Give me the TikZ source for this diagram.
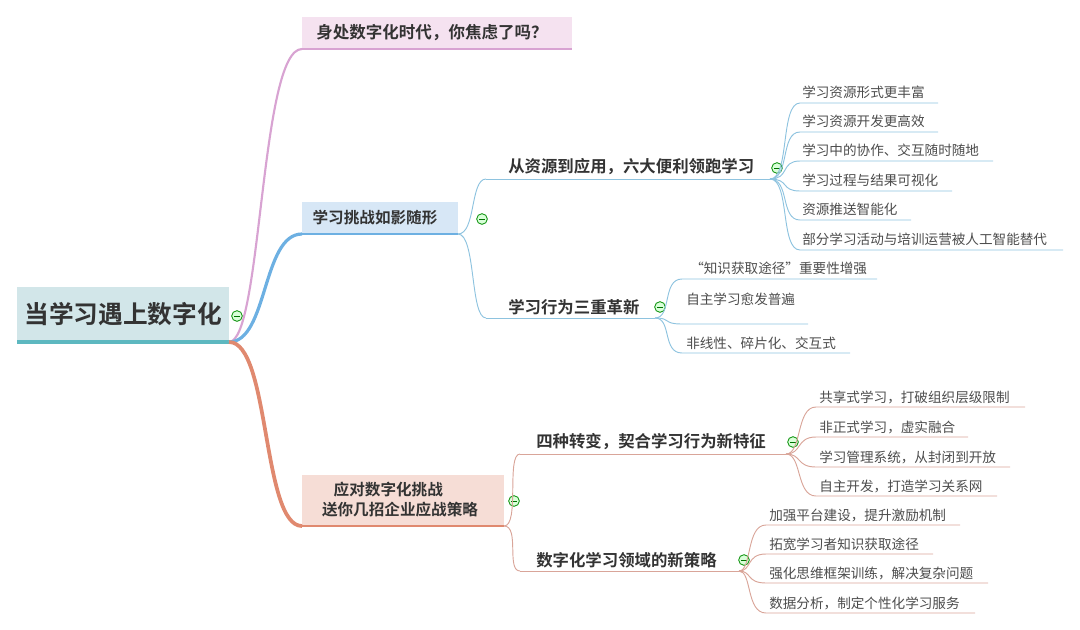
\documentclass[tikz,border=0pt]{standalone}
\usepackage{fontspec}
\setmainfont{Noto Sans CJK SC}
\newfontfamily\cjkb{Noto Sans CJK SC Bold}
\begin{document}
\begin{tikzpicture}[x=0.75pt,y=-0.75pt,
  leaf/.style={anchor=west,inner sep=0pt,text=black!70,font=\fontsize{10.2}{12}\selectfont},
  sub/.style={anchor=west,inner sep=0pt,text=black!80,font=\cjkb\fontsize{12.3}{14}\selectfont},
  minus/.style={circle,draw=green!55!black,fill=green!15,line width=0.6pt,minimum size=8pt,inner sep=0pt,
     path picture={\draw[green!45!black,line width=0.7pt] ([xshift=-2pt]path picture bounding box.center)--([xshift=2pt]path picture bounding box.center);}},
  conn/.style={line width=0.7pt}]
\useasboundingbox (0,0) rectangle (1080,629);
\definecolor{pk}{HTML}{D8A3D2}\definecolor{pkf}{HTML}{F5E2F0}
\definecolor{bl}{HTML}{6DB0E2}\definecolor{blf}{HTML}{D7E7F6}
\definecolor{bll}{HTML}{8EC3DF}
\definecolor{or}{HTML}{E0896F}\definecolor{orf}{HTML}{F6DDD6}
\definecolor{orl}{HTML}{D9A599}
\definecolor{tl}{HTML}{5DB8C0}\definecolor{tlf}{HTML}{D2E6E9}
% root
\fill[tlf] (17,287) rectangle (229,342);
\draw[tl,line width=2.5pt] (17,342) -- (229,342);
\node[text=black!80,font=\cjkb\fontsize{18.5}{20}\selectfont] (root) at (123,314) {当学习遇上数字化};
\coordinate (r0) at (229,342);
\node[minus] (rm) at (237,316) {};
% branch 1
\fill[pkf] (302,17) rectangle (572,49);
\draw[pk,line width=2pt] (302,49) -- (572,49);
\node[text=black!80,font=\cjkb\fontsize{12.4}{13}\selectfont] (b1) at (432,33) {身处数字化时代，你焦虑了吗？};
\coordinate (b1a) at (302,49);
% branch 2
\fill[blf] (302,202) rectangle (458,234);
\draw[bl,line width=2pt] (302,234) -- (458,234);
\node[text=black!80,font=\cjkb\fontsize{11.7}{13}\selectfont] (b2) at (375,218) {学习挑战如影随形};
\coordinate (b2a) at (302,234); \coordinate (b2b) at (458,234);
\node[minus] (b2m) at (482,219) {};
% branch 3
\fill[orf] (302,475) rectangle (504,526);
\draw[or,line width=2pt] (302,526) -- (504,526);
\node[text=black!80,font=\cjkb\fontsize{11.7}{15}\selectfont,align=center] (b3) at (400,500) {\hspace*{-1.5em}应对数字化挑战\\送你几招企业应战策略};
\coordinate (b3a) at (302,526); \coordinate (b3b) at (504,526);
\node[minus] (b3m) at (514,501) {};
% root connectors
\draw[pk,line width=1.6pt] (r0) .. controls (262,342) and (260,49) .. (b1a);
\draw[bl,line width=2.4pt] (r0) .. controls (268,342) and (262,234) .. (b2a);
\draw[or,line width=2.8pt] (r0) .. controls (270,342) and (262,526) .. (b3a);
% sub 2.1
\node[sub] (s1) at (508,167) {从资源到应用，六大便利领跑学习};
\coordinate (s1a) at (486,179); \coordinate (s1b) at (770,179);
\draw[bll,conn] (s1a) -- (s1b);
\node[minus] (s1m) at (777,168) {};
\draw[bll,conn] (b2b) .. controls (476,234) and (470,179) .. (s1a);
% sub 2.2
\node[sub] (s2) at (508,307) {学习行为三重革新};
\coordinate (s2a) at (486,318); \coordinate (s2b) at (655,318);
\draw[bll,conn] (s2a) -- (s2b);
\node[minus] (s2m) at (660,307) {};
\draw[bll,conn] (b2b) .. controls (476,234) and (470,318) .. (s2a);
% leaves 2.1
\foreach \n/\y/\e/\t in {1/103/938/学习资源形式更丰富,2/132/938/学习资源开发更高效,3/161/993/学习中的协作、交互随时随地,4/191/952/学习过程与结果可视化,5/220/911/资源推送智能化,6/250/1063/部分学习活动与培训运营被人工智能替代}{
  \node[leaf] (la\n) at (802,\y-11) {\t};
  \coordinate (lae\n) at (\e,\y);
  \draw[bll,conn] (s1b) .. controls (790,179) and (780,\y) .. (800,\y) -- (lae\n);
}
% leaves 2.2
\node[leaf] (lb1) at (690,268) {“知识获取途径”重要性增强};
\node[leaf] (lb2) at (686,299) {自主学习愈发普遍};
\node[leaf] (lb3) at (686,343) {非线性、碎片化、交互式};
\foreach \y/\e in {279/877,324/808,353/850}{
  \draw[bll,conn] (s2b) .. controls (672,318) and (662,\y) .. (682,\y) -- (\e,\y);
}
% sub 3.1
\node[sub] (s3) at (536,442) {四种转变，契合学习行为新特征};
\coordinate (s3a) at (520,454); \coordinate (s3b) at (786,454);
\draw[orl,conn] (s3a) -- (s3b);
\node[minus] (s3m) at (793,442) {};
\draw[orl,conn] (b3b) .. controls (520,526) and (506,454) .. (s3a);
% sub 3.2
\node[sub] (s4) at (536,560) {数字化学习领域的新策略};
\coordinate (s4a) at (520,571); \coordinate (s4b) at (739,571);
\draw[orl,conn] (s4a) -- (s4b);
\node[minus] (s4m) at (744,560) {};
\draw[orl,conn] (b3b) .. controls (520,526) and (506,571) .. (s4a);
% leaves 3.1
\foreach \n/\y/\e/\t in {1/407/1025/共享式学习，打破组织层级限制,2/437/968/非正式学习，虚实融合,3/467/1010/学习管理系统，从封闭到开放,4/496/997/自主开发，打造学习关系网}{
  \node[leaf] (lc\n) at (819,\y-10) {\t};
  \draw[orl,conn] (s3b) .. controls (802,454) and (796,\y) .. (816,\y) -- (\e,\y);
}
% leaves 3.2
\foreach \n/\y/\e/\t in {1/525/960/加强平台建设，提升激励机制,2/554/933/拓宽学习者知识获取途径,3/583/988/强化思维框架训练，解决复杂问题,4/613/975/数据分析，制定个性化学习服务}{
  \node[leaf] (ld\n) at (769,\y-10) {\t};
  \draw[orl,conn] (s4b) .. controls (752,571) and (746,\y) .. (766,\y) -- (\e,\y);
}
\end{tikzpicture}
\end{document}
